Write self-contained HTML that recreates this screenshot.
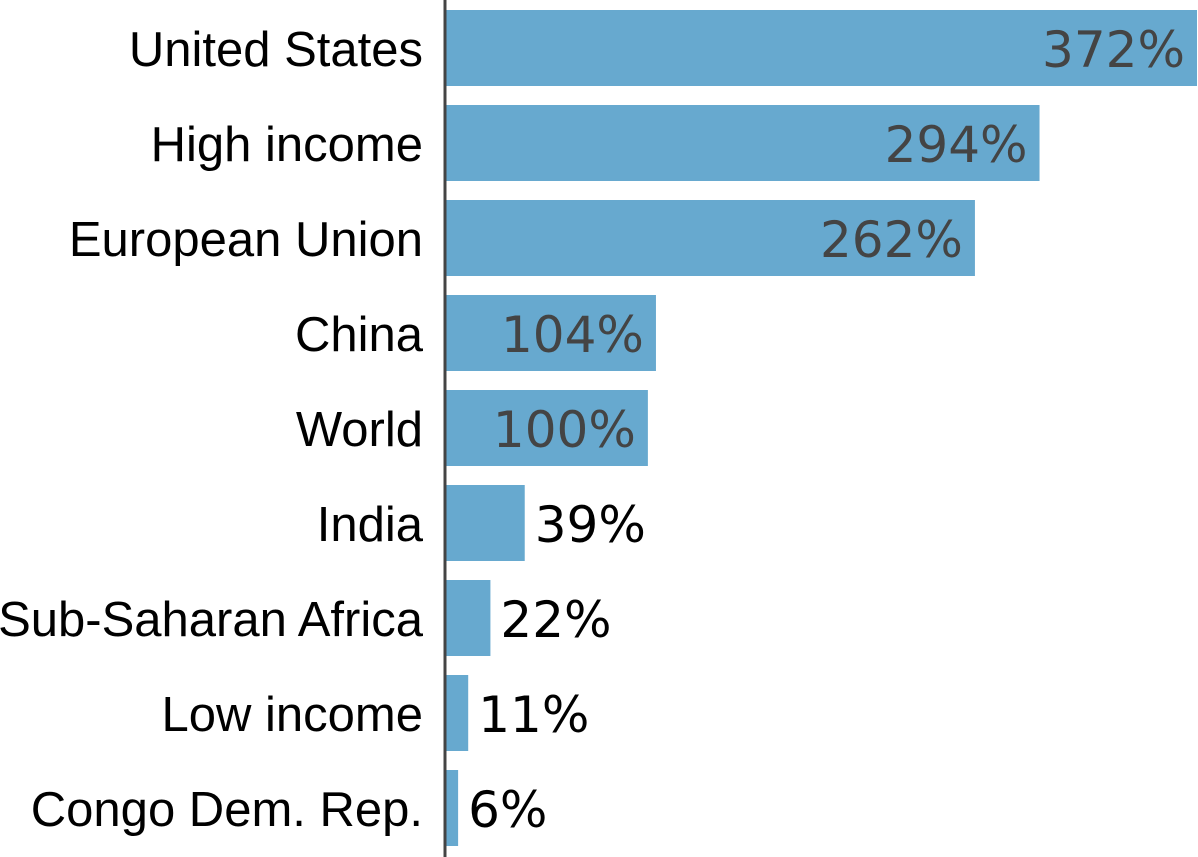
<!DOCTYPE html>
<html><head><meta charset="utf-8"><style>
html,body{margin:0;padding:0;background:#fff;}
svg{display:block;}
</style></head><body>
<svg id="chart" width="1198" height="857" xmlns="http://www.w3.org/2000/svg"></svg>
<script>
const categories = ["United States","High income","European Union","China","World","India","Sub-Saharan Africa","Low income","Congo Dem. Rep."];
const values = [372,294,262,104,100,39,22,11,6];
const valueLabels = ["372%","294%","262%","104%","100%","39%","22%","11%","6%"];

const NS = "http://www.w3.org/2000/svg";
const svg = document.getElementById("chart");
const x0 = 446, pxPerUnit = 751/372;
const rowTop = 10, pitch = 95, barH = 76;
function xScale(v){ return x0 + v*pxPerUnit; }
function yScale(i){ return rowTop + i*pitch; }
function mk(tag, attrs){ const e=document.createElementNS(NS,tag); for(const k in attrs) e.setAttribute(k, attrs[k]); svg.appendChild(e); return e; }

categories.forEach((c,i)=>{
  const y = yScale(i), w = xScale(values[i]) - x0;
  const bar = mk("rect",{x:x0,y:y,width:w,height:barH,fill:"#67a9cf"});
  
  
  const lab = mk("text",{x:423,y:y+barH/2+18,"text-anchor":"end","font-family":"Liberation Sans, sans-serif","font-size":"49",fill:"#000"});
  lab.textContent = c;
  
  
  const inside = w > 200;
  const vl = mk("text",{x: inside ? xScale(values[i])-12 : xScale(values[i])+10, y:y+barH/2+19,"text-anchor": inside?"end":"start","font-family":"DejaVu Sans, sans-serif","font-size":"50",fill: inside?"#444":"#000"});
  vl.textContent = valueLabels[i];
  
  
});
const axis = mk("line",{x1:445,y1:0,x2:445,y2:857,stroke:"#444","stroke-width":3});


</script>
</body></html>
